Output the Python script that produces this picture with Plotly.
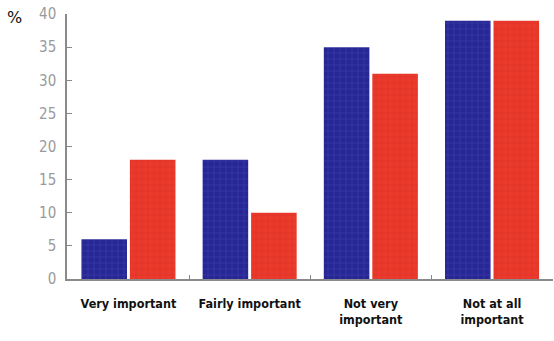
import plotly.graph_objects as go

categories = ["Very important", "Fairly important", "Not very<br>important", "Not at all<br>important"]
series_a = [6, 18, 35, 39]
series_b = [18, 10, 31, 39]
y_ticks = [0, 5, 10, 15, 20, 25, 30, 35, 40]

NARROW = "DejaVu Sans Condensed, Liberation Sans Narrow, sans-serif"

fig = go.Figure()
fig.add_bar(
    x=categories, y=series_a, name="A",
    marker=dict(color="#262694", line=dict(width=0),
                pattern=dict(shape="+", fgcolor="#4848b8", size=6, solidity=0.25)),
)
fig.add_bar(
    x=categories, y=series_b, name="B",
    marker=dict(color="#ea3a2c", line=dict(width=0),
                pattern=dict(shape="+", fgcolor="#d42a22", size=6, solidity=0.25)),
)

fig.update_layout(
    width=554, height=341,
    margin=dict(l=67, r=1, t=14, b=62, autoexpand=False),
    paper_bgcolor="white", plot_bgcolor="white",
    barmode="group", bargap=0.2, bargroupgap=0.06,
    showlegend=False,
    font=dict(family=NARROW),
)
fig.update_xaxes(
    type="category", range=[-0.507, 3.503],
    showline=True, linecolor="#8a8a8a", linewidth=1.5,
    ticks="inside", tickson="boundaries", ticklen=4, tickcolor="#8a8a8a",
    showgrid=False, zeroline=False, tickangle=0, automargin=False,
    ticklabelstandoff=12,
    tickfont=dict(size=12.5, color="#111111", family=NARROW, weight="bold"),
)
fig.update_yaxes(
    range=[0, 40], tickvals=y_ticks,
    showline=True, linecolor="#8a8a8a", linewidth=1.5,
    ticks="inside", ticklen=5, tickcolor="#8a8a8a",
    showgrid=False, zeroline=False, automargin=False,
    ticklabelstandoff=6,
    tickfont=dict(size=15, color="#9a9a9a", family=NARROW),
)
fig.add_annotation(
    text="%", x=0, y=1, xref="paper", yref="paper",
    xshift=-62, yshift=-3, xanchor="left", yanchor="middle",
    showarrow=False, font=dict(size=16, color="#111111", family="DejaVu Sans"),
)

fig.write_html("out.html")
